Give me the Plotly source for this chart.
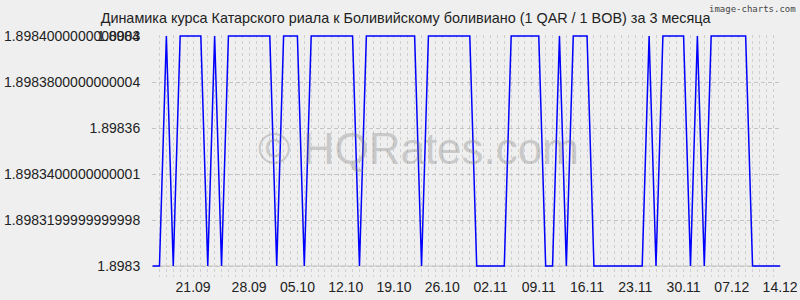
import pandas as pd
import plotly.graph_objects as go

# ---- data ----
dates = pd.date_range("2023-09-14", "2023-12-14", freq="D").strftime("%Y-%m-%d").tolist()
LOW = 1.8983
HIGH = 1.8984
# H = high day, L = low day
pattern = ("LLHLHHHHLHL" "HHHHHHH" "L" "HHH" "L" "HHHHHHH" "L" "HHHHHHHH" "L" "HHHHHHH"
           "LLLLL" "HHHHH" "LL" "H" "L" "HHH" "LLLLLLLL" "H" "L" "HHHH" "L" "H" "L" "HHHHHH" "LLLLL")
rates = [HIGH if c == "H" else LOW for c in pattern]

y_tickvals = [1.8984, 1.89838, 1.89836, 1.89834, 1.89832, 1.8983]
y_ticktext = ["1.8984000000000003", "1.8983800000000004", "1.89836",
              "1.8983400000000001", "1.8983199999999998", "1.8983"]
x_tickvals = ["2023-09-21", "2023-09-28", "2023-10-05", "2023-10-12", "2023-10-19",
              "2023-10-26", "2023-11-02", "2023-11-09", "2023-11-16", "2023-11-23",
              "2023-11-30", "2023-12-07", "2023-12-14"]
x_ticktext = ["21.09\u00a0\u00a0\u00a0\u00a0", "28.09", "05.10", "12.10", "19.10", "26.10",
              "02.11", "09.11", "16.11", "23.11", "30.11", "07.12", "14.12"]
title = "Динамика курса Катарского риала к Боливийскому боливиано (1 QAR / 1 BOB) за 3 месяца"

BG = "#efefef"
FONT = "Liberation Sans, Arial, sans-serif"

fig = go.Figure()
fig.add_trace(go.Scatter(x=dates, y=rates, mode="lines",
                         line=dict(color="#0000ff", width=1.5),
                         hoverinfo="skip", showlegend=False))

fig.update_layout(
    width=800, height=300,
    margin=dict(l=152, r=19, t=35, b=23),
    paper_bgcolor=BG, plot_bgcolor=BG,
    font=dict(family=FONT, size=14, color="#222222"),
    title=dict(text=title, x=0.507, xref="container", xanchor="center",
               y=0.94, yref="container", yanchor="middle",
               font=dict(family=FONT, size=14.4, color="#222222")),
    xaxis=dict(
        type="date", automargin=False,
        range=["2023-09-13 22:00", "2023-12-14 03:00"],
        tickvals=x_tickvals, ticktext=x_ticktext,
        showgrid=True, gridcolor="#cfcfcf", griddash="3px,3px", gridwidth=1,
        minor=dict(dtick=86400000, tick0="2023-09-14", showgrid=True,
                   gridcolor="#cfcfcf", griddash="3px,3px", gridwidth=1),
        ticks="", ticklen=0,
        showline=False, zeroline=False,
        tickfont=dict(family=FONT, size=14, color="#222222"),
    ),
    yaxis=dict(
        automargin=False,
        range=[1.8983 - 11 / 230 * 0.0001, 1.8984 + 1 / 230 * 0.0001],
        tickvals=y_tickvals, ticktext=y_ticktext,
        showgrid=True, gridcolor="#c4c4c4", griddash="4px,3px", gridwidth=1,
        ticks="outside", ticklen=8, tickcolor=BG,
        showline=False, zeroline=False,
        tickfont=dict(family=FONT, size=14, color="#222222"),
    ),
    shapes=[dict(type="line", xref="paper", x0=0, x1=1, yref="y",
                 y0=y_tickvals[-1], y1=y_tickvals[-1],
                 line=dict(color="#c4c4c4", width=1), layer="below")],
    annotations=[
        dict(text="1.8984", xref="paper", x=0, xanchor="right", xshift=-10,
             yref="y", y=y_tickvals[0], yanchor="middle", showarrow=False,
             font=dict(family=FONT, size=14, color="#222222")),
        dict(text="© HQRates.com", xref="paper", x=0.423, yref="paper", y=0.53,
             xanchor="center", yanchor="middle", showarrow=False,
             font=dict(family=FONT, size=44, color="rgba(120,120,120,0.32)")),
        dict(text="image-charts.com", xref="paper", x=1.027, xanchor="right",
             yref="paper", y=1.135, yanchor="top", showarrow=False,
             font=dict(family="DejaVu Sans Mono, monospace", size=9, color="#444444")),
    ],
)

fig.write_html("out.html")
